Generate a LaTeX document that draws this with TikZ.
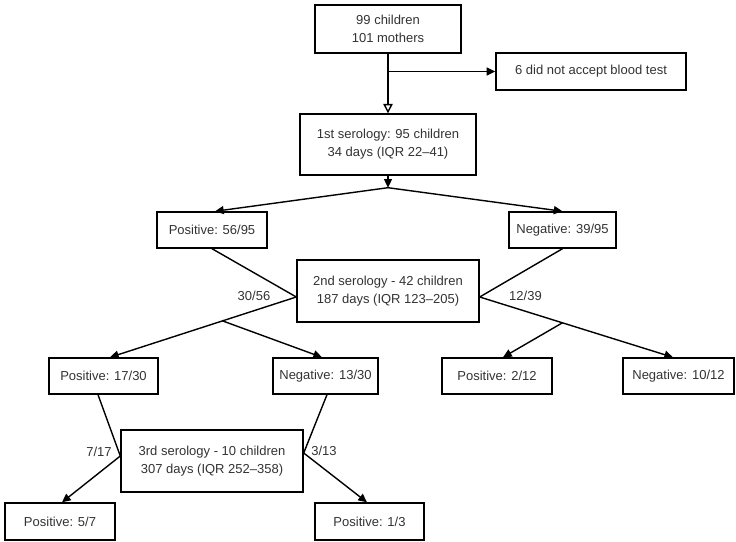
\documentclass[tikz,border=0pt]{standalone}
\usepackage{fontspec}
\setmainfont{Liberation Sans}
\usetikzlibrary{arrows.meta,calc}
\begin{document}
\begin{tikzpicture}[x=0.75pt,y=-0.75pt,
  box/.style={draw=black, line width=1.05pt, fill=white, text=black!80, align=center,
    inner sep=0pt, font=\fontsize{9.75pt}{13.5pt}\selectfont},
  lbl/.style={text=black!80, inner sep=0pt, font=\fontsize{9.75pt}{13.5pt}\selectfont},
  conn/.style={line width=1.05pt, draw=black},
  arr/.style={conn, -{Triangle[length=6.5pt,width=6pt]}},
  oarr/.style={conn, -{Triangle[open,length=7pt,width=7pt,fill=white]}}
]
\useasboundingbox (0,0) rectangle (736,542);
\newcommand{\bx}[5]{\node[box, minimum width=#3*0.75pt, minimum height=#4*0.75pt] (#1) at #2 {#5};}
\bx{b1}{(388,29)}{146}{48}{99 children\\101 mothers}
\bx{ref}{(591,71.5)}{190}{37}{6 did not accept blood test}
\bx{s1}{(388,144.5)}{176}{61}{1st serology: 95 children\\34 days (IQR 22--41)}
\bx{p1}{(212,230)}{110}{36}{Positive: 56/95}
\bx{n1}{(562.5,230)}{107}{36}{Negative: 39/95}
\bx{s2}{(388,291)}{182}{62}{2nd serology - 42 children\\187 days (IQR 123--205)}
\bx{p2}{(103.5,376)}{109}{36}{Positive: 17/30}
\bx{n2}{(325.5,376)}{105}{36}{Negative: 13/30}
\bx{p2b}{(497,376)}{110}{36}{Positive: 2/12}
\bx{n2b}{(678.5,376)}{111}{36}{Negative: 10/12}
\bx{s3}{(212,461)}{182}{62}{3rd serology - 10 children\\307 days (IQR 252--358)}
\bx{p3}{(60,521.5)}{110}{37}{Positive: 5/7}
\bx{p3b}{(369.5,521.5)}{109}{37}{Positive: 1/3}

% top
\coordinate (j1) at (b1.south |- ref.west);
\draw[oarr] (b1.south) -- (s1.north);
\draw[arr] (j1) -- (ref.west);
\coordinate (j2) at ($(s1.south)+(0,12)$);
\draw[arr] (s1.south) -- (j2);
\draw[arr] (j2) -- ($(p1.north)+(3,0)$);
\draw[arr] (j2) -- (n1.north);

% second level
\coordinate (l2) at ($(s2.west)+(0,6)$);
\coordinate (r2) at ($(s2.east)+(0,6)$);
\draw[conn] (p1.south) -- (l2);
\draw[arr] (l2) -- ($(p2.north)+(6.5,0)$);
\coordinate (bl2) at ($(l2)!0.396!($(p2.north)+(6.5,0)$)$);
\draw[arr] (bl2) -- ($(n2.north)+(-3.5,0)$);
\draw[conn] (n1.south) -- (r2);
\draw[arr] (r2) -- ($(n2b.north)+(-5.5,0)$);
\coordinate (br2) at ($(r2)!0.428!($(n2b.north)+(-5.5,0)$)$);
\draw[arr] (br2) -- ($(p2b.north)+(6,0)$);

% third level
\coordinate (l3) at ($(s3.west)+(0,-5)$);
\coordinate (r3) at ($(s3.east)+(0,-8)$);
\draw[conn] ($(p2.south)+(-5.5,0)$) -- (l3);
\draw[arr] (l3) -- ($(p3.north)+(2,0)$);
\draw[conn] ($(n2.south)+(1.5,0)$) -- (r3);
\draw[arr] (r3) -- ($(p3b.north)+(-2.5,0)$);

% labels
\node[lbl] (t1) at (254,296) {30/56};
\node[lbl] (t2) at (525.5,296) {12/39};
\node[lbl] (t3) at (99,452) {7/17};
\node[lbl] (t4) at (324,451) {3/13};
\end{tikzpicture}
\end{document}
